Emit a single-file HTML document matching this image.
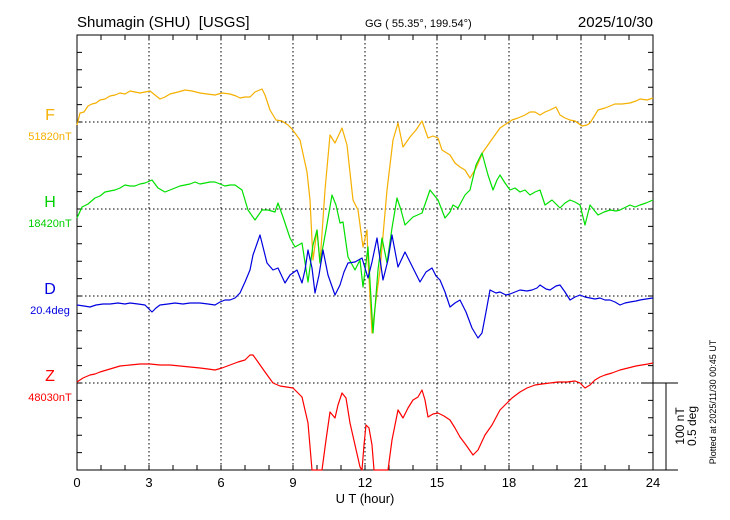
<!DOCTYPE html>
<html><head><meta charset="utf-8"><style>
body{margin:0;background:#fff}
svg{display:block;font-family:"Liberation Sans",sans-serif}
text{white-space:pre}
</style></head><body>
<svg width="730" height="520" viewBox="0 0 730 520">
<rect width="730" height="520" fill="#fff"/>
<text x="77" y="27" font-size="15">Shumagin (SHU)  [USGS]</text>
<text x="365" y="27" font-size="11">GG ( 55.35°, 199.54°)</text>
<text x="653" y="27" font-size="15" text-anchor="end">2025/10/30</text>
<g stroke="#000" stroke-dasharray="1.5,2.5" stroke-width="1">
<line x1="149" y1="35" x2="149" y2="470"/><line x1="221" y1="35" x2="221" y2="470"/>
<line x1="293" y1="35" x2="293" y2="470"/><line x1="365" y1="35" x2="365" y2="470"/>
<line x1="437" y1="35" x2="437" y2="470"/><line x1="509" y1="35" x2="509" y2="470"/>
<line x1="581" y1="35" x2="581" y2="470"/>
<line x1="77" y1="122" x2="653" y2="122"/><line x1="77" y1="209" x2="653" y2="209"/>
<line x1="77" y1="296" x2="653" y2="296"/><line x1="77" y1="383" x2="653" y2="383"/>
</g>
<g stroke="#000" stroke-width="1" fill="none">
<rect x="77" y="35" width="576" height="435"/>
<line x1="653" y1="470" x2="678" y2="470"/>
<line x1="641" y1="383" x2="678" y2="383"/>
<line x1="666" y1="383" x2="666" y2="470"/>
<path d="M101,35v5M125,35v5M149,35v5M173,35v5M197,35v5M221,35v5M245,35v5M269,35v5M293,35v5M317,35v5M341,35v5M365,35v5M389,35v5M413,35v5M437,35v5M461,35v5M485,35v5M509,35v5M533,35v5M557,35v5M581,35v5M605,35v5M629,35v5
M101,470v-5M125,470v-5M149,470v-5M173,470v-5M197,470v-5M221,470v-5M245,470v-5M269,470v-5M293,470v-5M317,470v-5M341,470v-5M365,470v-5M389,470v-5M413,470v-5M437,470v-5M461,470v-5M485,470v-5M509,470v-5M533,470v-5M557,470v-5M581,470v-5M605,470v-5M629,470v-5
M77,52.4h5M77,69.8h5M77,87.2h5M77,104.6h5M77,122h5M77,139.4h5M77,156.8h5M77,174.2h5M77,191.6h5M77,209h5M77,226.4h5M77,243.8h5M77,261.2h5M77,278.6h5M77,296h5M77,313.4h5M77,330.8h5M77,348.2h5M77,365.6h5M77,383h5M77,400.4h5M77,417.8h5M77,435.2h5M77,452.6h5
M653,52.4h-5M653,69.8h-5M653,87.2h-5M653,104.6h-5M653,122h-5M653,139.4h-5M653,156.8h-5M653,174.2h-5M653,191.6h-5M653,209h-5M653,226.4h-5M653,243.8h-5M653,261.2h-5M653,278.6h-5M653,296h-5M653,313.4h-5M653,330.8h-5M653,348.2h-5M653,365.6h-5M653,383h-5M653,400.4h-5M653,417.8h-5M653,435.2h-5M653,452.6h-5"/>
</g>
<g font-size="13" text-anchor="middle">
<text x="77" y="487">0</text><text x="149" y="487">3</text><text x="221" y="487">6</text>
<text x="293" y="487">9</text><text x="365" y="487">12</text><text x="437" y="487">15</text>
<text x="509" y="487">18</text><text x="581" y="487">21</text><text x="653" y="487">24</text>
<text x="365" y="503">U T (hour)</text>
</g>
<g text-anchor="middle">
<text x="50" y="120" font-size="16" fill="#f5b000">F</text>
<text x="50" y="140" font-size="11" fill="#f5b000">51820nT</text>
<text x="50" y="207" font-size="16" fill="#00d000">H</text>
<text x="50" y="227" font-size="11" fill="#00d000">18420nT</text>
<text x="50" y="294" font-size="16" fill="#0000e0">D</text>
<text x="50" y="314" font-size="11" fill="#0000e0">20.4deg</text>
<text x="50" y="381" font-size="16" fill="#ff0000">Z</text>
<text x="50" y="401" font-size="11" fill="#ff0000">48030nT</text>
</g>
<text transform="translate(684,426) rotate(-90)" font-size="12" text-anchor="middle">100 nT</text>
<text transform="translate(696,426) rotate(-90)" font-size="12" text-anchor="middle">0.5 deg</text>
<text transform="translate(716,402) rotate(-90)" font-size="9" text-anchor="middle">Plotted at 2025/11/30 00:45 UT</text>
<g fill="none" stroke-width="1.2" stroke-linejoin="round">
<polyline stroke="#f5b000" points="77,125 80,113 84,112 88,106 92,104 96,103 100,100 105,99 110,96 115,95 120,93 125,94 130,91 135,92 140,93 145,92 150,91 155,95 160,99 165,97 170,94 178,92 185,90 192,91 200,93 207,94 215,95 222,93 230,94 236,96 240,98 245,97 250,97 255,92 262,89 265,95 270,110 276,120 282,121 288,125 292,129 300,140 307,172 310,200 313,260 317,230 320,263 325,190 330,135 335,143 342,128 347,145 353,200 358,210 363,247 367,230 368,260 372,333 376,300 380,270 387,190 393,140 398,123 403,147 410,137 416,130 422,121 428,138 433,136 438,138 442,150 450,155 455,163 460,167 465,170 470,178 476,168 483,152 490,142 500,128 506,124 512,120 518,118 525,115 530,112 535,112 540,115 545,112 550,110 556,107 560,115 565,118 570,120 575,121 582,126 587,125 590,123 595,115 598,110 605,108 610,106 615,104 622,104 630,103 636,101 640,99 647,100 653,98"/>
<polyline stroke="#00e000" points="77,218 82,207 88,204 95,198 100,196 105,192 110,191 115,190 120,188 125,185 130,186 135,186 140,184 145,183 152,180 158,188 165,192 170,190 175,188 180,186 185,185 190,184 195,182 200,184 205,183 210,182 215,182 220,184 225,186 230,185 235,185 242,190 248,210 255,220 262,210 268,210 275,212 278,203 283,217 290,238 295,247 302,243 308,282 313,245 317,230 320,263 326,230 332,195 336,205 340,223 343,222 348,257 355,270 360,260 363,287 368,247 373,333 378,270 382,238 387,263 392,228 397,198 401,210 405,225 410,220 413,217 422,213 430,190 438,200 445,218 450,212 453,205 458,208 465,195 470,190 476,165 482,153 488,175 493,190 497,180 500,175 505,183 510,190 515,188 520,192 525,190 530,195 535,192 540,190 545,205 552,200 556,204 560,208 565,203 570,200 575,202 580,205 585,225 590,205 594,210 598,215 604,212 610,210 616,211 620,210 626,207 630,205 635,207 640,205 646,203 653,200"/>
<polyline stroke="#0000e0" points="77,305 84,306 90,307 96,305 103,304 110,304 118,303 125,304 130,303 138,304 145,305 152,312 156,308 160,305 168,304 175,303 183,304 190,303 200,303 208,304 215,305 220,302 225,300 230,300 235,298 240,293 245,282 250,270 253,255 260,235 267,263 273,270 278,268 285,283 290,275 297,270 302,283 305,270 308,250 312,268 315,293 319,275 323,250 328,275 335,295 340,285 344,272 348,263 355,262 362,258 368,278 372,262 377,238 383,280 388,260 392,235 398,267 405,252 410,262 415,272 420,282 426,272 432,268 436,276 440,280 445,292 450,307 455,303 460,300 466,312 472,328 478,338 482,333 486,312 490,290 496,293 500,292 506,295 510,294 515,292 520,290 527,291 532,290 537,288 540,285 546,289 550,290 556,286 560,285 565,292 570,300 575,297 580,295 585,297 590,298 595,299 600,298 605,300 610,300 615,302 620,305 625,303 630,302 636,301 640,300 646,299 653,298"/>
<polyline stroke="#ff0000" points="77,382 83,378 90,375 95,374 100,372 110,369 120,366 130,365 140,364 150,364 160,365 170,365 180,366 190,367 200,368 208,369 215,370 222,368 230,365 238,362 245,360 250,355 253,355 258,362 265,372 273,383 280,386 293,388 302,397 308,423 312,470 322,470 326,440 330,412 335,418 338,405 342,393 346,398 350,423 355,445 360,467 362,470 364,445 366,425 369,428 372,445 374,470 388,470 392,440 398,410 403,418 408,408 413,400 418,397 422,390 425,400 428,417 433,414 438,413 444,416 450,420 455,428 460,437 466,445 473,455 478,450 485,435 492,425 500,410 506,404 512,398 520,392 527,388 535,385 542,384 550,383 558,382 567,382 575,381 580,383 585,388 590,385 595,380 600,377 605,375 612,373 620,370 628,368 636,366 642,365 648,364 653,363"/>
</g>
</svg>
</body></html>
